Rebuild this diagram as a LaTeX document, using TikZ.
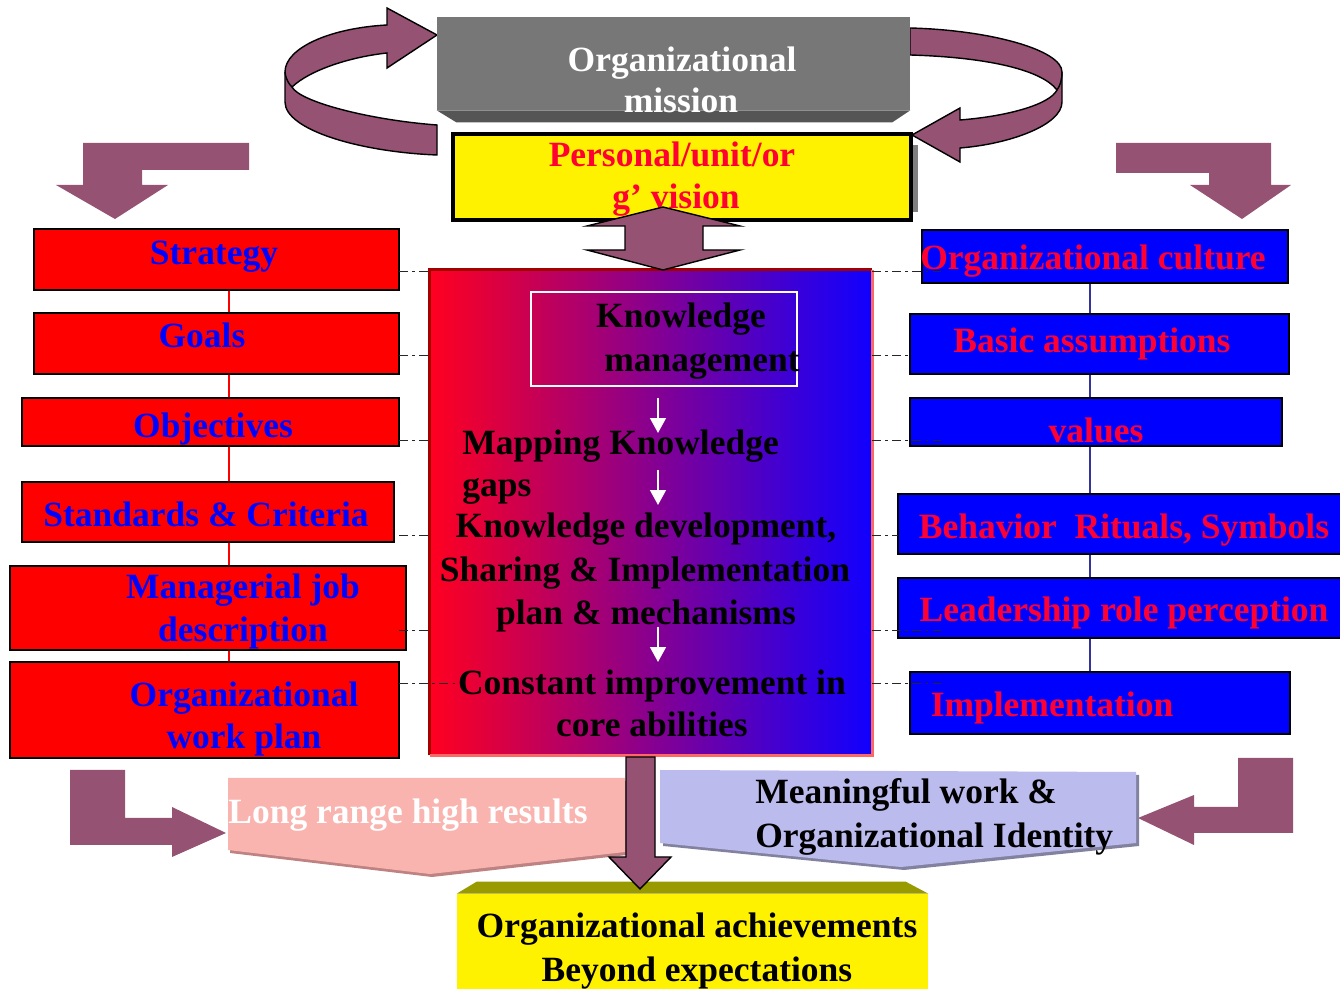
\documentclass[tikz,border=0pt]{standalone}
\usepackage{fontspec}
\setmainfont{Liberation Serif}
\usepackage{tikz}
\usetikzlibrary{arrows.meta}

\definecolor{plum}{RGB}{149,82,115}
\definecolor{misgray}{RGB}{119,119,119}
\definecolor{misdark}{RGB}{85,85,85}
\definecolor{vred}{RGB}{255,0,51}
\definecolor{kmred}{RGB}{255,0,32}
\definecolor{kmmid}{RGB}{175,0,170}
\definecolor{kmblue}{RGB}{16,0,255}
\definecolor{kmdark}{RGB}{160,0,0}
\definecolor{kmlight}{RGB}{255,102,102}
\definecolor{pinkbox}{RGB}{249,180,176}
\definecolor{pinkshade}{RGB}{190,130,130}
\definecolor{lavbox}{RGB}{187,187,238}
\definecolor{lavshade}{RGB}{130,130,160}
\definecolor{achbevel}{RGB}{153,153,0}
\definecolor{culline}{RGB}{51,51,153}

\tikzset{
  txt/.style={inner sep=0pt, anchor=base, font=\bfseries\fontsize{20.2}{24}\selectfont},
  lbox/.style={draw=black, fill=red, line width=1.2pt, inner sep=0pt},
  rbox/.style={draw=black, fill=blue, line width=1.2pt, inner sep=0pt},
  dd/.style={black!85, line width=0.5pt, dash pattern=on 5pt off 2.5pt on 1.5pt off 2.5pt},
  bigarrow/.style={fill=plum, draw=black, line width=0.8pt, line join=miter},
  warrow/.style={white, line width=1.1pt, -{Triangle[width=9pt,length=8.5pt]}},
}

\begin{document}
\begin{tikzpicture}[x=0.02cm,y=-0.02cm]
\useasboundingbox (0,0) rectangle (1340,989);
\clip (0,0) rectangle (1340,989);

% bent arrows
\fill[plum] (249,143) -- (83,143) -- (83,185) -- (56,185) -- (115,219) -- (168,185) -- (142,185) -- (142,170) -- (249,170) -- cycle;
\fill[plum] (1116,143) -- (1271,143) -- (1271,185) -- (1291,185) -- (1242,219) -- (1190,185) -- (1209,185) -- (1209,173) -- (1116,173) -- cycle;
\fill[plum] (70,770) -- (125,770) -- (125,818) -- (172,818) -- (172,807) -- (226,833) -- (172,857) -- (172,845) -- (70,845) -- cycle;
\fill[plum] (1293,758) -- (1238,758) -- (1238,807) -- (1194,807) -- (1194,795) -- (1138,818) -- (1194,845) -- (1194,833) -- (1293,833) -- cycle;

% top loops
\draw[bigarrow] (437,125) .. controls (370,120) and (300,102) .. (292,87)
  .. controls (310,70) and (350,57) .. (387,53) -- (387,68) -- (437,35) -- (387,8) -- (387,25)
  .. controls (330,28) and (285,48) .. (285,72) -- (285,102)
  .. controls (285,130) and (360,152) .. (437,155) -- cycle;
\draw[line width=0.8pt] (285,72) .. controls (286,80) and (289,84) .. (292,87);
\draw[bigarrow] (910,28) .. controls (990,30) and (1062,50) .. (1062,72) -- (1062,102)
  .. controls (1062,125) and (1010,144) .. (960,148) -- (960,162) -- (912,135) -- (960,108) -- (960,120)
  .. controls (1010,116) and (1050,104) .. (1057,90)
  .. controls (1040,68) and (980,57) .. (910,55) -- cycle;
\draw[line width=0.8pt] (1062,72) .. controls (1062,80) and (1060,86) .. (1057,90);

% mission and vision
\node[fill=misgray, minimum width=9.46cm, minimum height=1.86cm, inner sep=0pt] (mission) at (673.5,63.5) {};
\fill[misdark] (mission.south west) -- (mission.south east) -- ++(-18,12) -- ++(-436,0) -- cycle;
\fill[gray] (913,145) rectangle (918,212);
\node[draw=black, fill=yellow, line width=2.6pt, minimum width=9.16cm, minimum height=1.72cm, inner sep=0pt] (vision) at (682,177) {};

% knowledge management box
\node[left color=kmred, middle color=kmmid, right color=kmblue, minimum width=8.84cm, minimum height=9.7cm, inner sep=0pt] (km) at (651,512.5) {};
\draw[kmdark, line width=1.8pt] (km.south west) -- (km.north west) -- (km.north east);
\draw[kmlight, line width=1.8pt] (km.north east) -- (km.south east) -- (km.south west);
\node[draw=white, line width=0.8pt, minimum width=5.32cm, minimum height=1.88cm, inner sep=0pt] (kmbox) at (664,339) {};

% left column
\coordinate (redx) at (229,0);
\node[lbox, minimum width=7.30cm, minimum height=1.22cm] (strat) at (216.5,259.5) {};
\node[lbox, minimum width=7.30cm, minimum height=1.22cm] (goals) at (216.5,343.5) {};
\node[lbox, minimum width=7.54cm, minimum height=0.96cm] (obj) at (210.5,422) {};
\node[lbox, minimum width=7.44cm, minimum height=1.20cm] (stand) at (208,512) {};
\node[lbox, minimum width=7.92cm, minimum height=1.68cm] (mjob) at (208,608) {};
\node[lbox, minimum width=7.78cm, minimum height=1.92cm] (wplan) at (204.5,710) {};
\draw[red, line width=0.6pt] (strat.south -| redx) -- (goals.north -| redx);
\draw[red, line width=0.6pt] (goals.south -| redx) -- (obj.north -| redx);
\draw[red, line width=0.6pt] (obj.south -| redx) -- (stand.north -| redx);
\draw[red, line width=0.6pt] (stand.south -| redx) -- (mjob.north -| redx);
\draw[red, line width=0.6pt] (mjob.south -| redx) -- (wplan.north -| redx);

% right column
\coordinate (bluex) at (1090,0);
\node[rbox, minimum width=7.32cm, minimum height=1.06cm] (cult) at (1105,256.5) {};
\node[rbox, minimum width=7.58cm, minimum height=1.20cm] (assum) at (1099.5,344) {};
\node[rbox, minimum width=7.44cm, minimum height=0.96cm] (vals) at (1096,422) {};
\node[rbox, minimum width=8.94cm, minimum height=1.20cm] (behav) at (1121.5,524) {};
\node[rbox, minimum width=8.94cm, minimum height=1.20cm] (lead) at (1121.5,608) {};
\node[rbox, minimum width=7.60cm, minimum height=1.24cm] (impl) at (1100,703) {};
\draw[culline, line width=0.9pt] (cult.south -| bluex) -- (assum.north -| bluex);
\draw[culline, line width=0.9pt] (assum.south -| bluex) -- (vals.north -| bluex);
\draw[culline, line width=0.9pt] (vals.south -| bluex) -- (behav.north -| bluex);
\draw[culline, line width=0.9pt] (behav.south -| bluex) -- (lead.north -| bluex);
\draw[culline, line width=0.9pt] (lead.south -| bluex) -- (impl.north -| bluex);

% pomozne tocke za crte
\coordinate (sl1) at (399,271);
\coordinate (sl2) at (399,355);
\coordinate (sl3) at (399,440);
\coordinate (sl4) at (399,535);
\coordinate (sl5) at (399,630);
\coordinate (sl6) at (399,683);
\coordinate (kl1) at (430,271);
\coordinate (kl2) at (430,355);
\coordinate (kl3) at (430,440);
\coordinate (kl4) at (430,535);
\coordinate (kl5) at (430,630);
\coordinate (kl6) at (457,683);
\coordinate (kr1) at (872,271);
\coordinate (kr2) at (872,355);
\coordinate (kr3) at (872,440);
\coordinate (kr4) at (872,535);
\coordinate (kr5) at (872,630);
\coordinate (kr6) at (872,683);
\coordinate (cr1) at (942,271);
\coordinate (cr2) at (910,355);
\coordinate (cr3) at (942,440);
\coordinate (cr4) at (898,535);
\coordinate (cr5) at (942,630);
\coordinate (cr6) at (942,683);
\foreach \i in {1,...,6}
  \draw[dd] (sl\i) -- (kl\i);
\foreach \i in {1,...,6}
  \draw[dd] (kr\i) -- (cr\i);

% white arrows
\coordinate (a1) at (658,398);
\coordinate (b1) at (658,433);
\coordinate (a2) at (658,470);
\coordinate (b2) at (658,505);
\coordinate (a3) at (658,627);
\coordinate (b3) at (658,662);
\foreach \i in {1,2,3}
  \draw[warrow] (a\i) -- (b\i);

% bottom shapes
\fill[pinkshade] (230,781) -- (627,781) -- (627,855) -- (432,877) -- (230,853) -- cycle;
\fill[pinkbox] (228,778) -- (625,778) -- (625,852) -- (430,874) -- (228,850) -- cycle;
\fill[lavshade] (663,773) -- (1139,775) -- (1139,846) -- (904,870) -- (663,846) -- cycle;
\fill[lavbox] (660,770) -- (1136,772) -- (1136,843) -- (901,867) -- (660,843) -- cycle;
\node[fill=yellow, minimum width=9.42cm, minimum height=1.9cm, inner sep=0pt] (ach) at (692.5,941.5) {};
\fill[achbevel] (ach.north west) -- ++(20,-12) -- ++(429,0) -- (ach.north east) -- cycle;
\draw[bigarrow] (626,757) -- (655,757) -- (655,857) -- (671,857) -- (640,889) -- (609,857) -- (626,857) -- cycle;

% texts
\node[txt, white] (mis1) at (682,72) {Organizational};
\node[txt, white] (mis2) at (681,113) {mission};
\node[txt, vred] (vis1) at (672,167) {Personal/unit/or};
\node[txt, vred] (vis2) at (676,209) {g’ vision};
\draw[bigarrow] (663,207) -- (740,226) -- (703,226) -- (703,250) -- (740,250) -- (663,270) -- (587,250) -- (625,250) -- (625,226) -- (587,226) -- cycle;

\node[txt, blue] (strat-t) at (214,265) {Strategy};
\node[txt, blue] (goals-t) at (202,348) {Goals};
\node[txt, blue] (obj-t) at (213,438) {Objectives};
\node[txt, blue] (stand-t) at (206,527) {Standards \& Criteria};
\node[txt, blue] (mjob1) at (243,599) {Managerial job};
\node[txt, blue] (mjob2) at (243,642) {description};
\node[txt, blue] (wplan1) at (244,707) {Organizational};
\node[txt, blue] (wplan2) at (244,749) {work plan};

\node[txt] (km1) at (681,328) {Knowledge};
\node[txt] (km2) at (702,372) {management};
\node[txt, anchor=base west] (map1) at (462,455) {Mapping Knowledge};
\node[txt, anchor=base west] (map2) at (462,497) {gaps};
\node[txt] (dev1) at (646,538) {Knowledge development,};
\node[txt] (dev2) at (645,582) {Sharing \& Implementation};
\node[txt] (dev3) at (646,625) {plan \& mechanisms};
\node[txt] (imp1) at (652,695) {Constant improvement in};
\node[txt] (imp2) at (652,737) {core abilities};

\node[txt, vred] (cult-t) at (1093,270) {Organizational culture};
\node[txt, vred] (assum-t) at (1092,353) {Basic assumptions};
\node[txt, vred] (vals-t) at (1096,443) {values};
\node[txt, vred] (behav-t) at (1124,539) {Behavior\ \ Rituals, Symbols};
\node[txt, vred] (lead-t) at (1124,622) {Leadership role perception};
\node[txt, vred] (impl-t) at (1052,717) {Implementation};

\node[txt, white] (long-t) at (408,824) {Long range high results};
\node[txt, anchor=base west] (mean1) at (755,804) {Meaningful work \&};
\node[txt, anchor=base west] (mean2) at (755,847) {Organizational Identity};
\node[txt] (ach1) at (697,938) {Organizational achievements};
\node[txt] (ach2) at (697,981) {Beyond expectations};
\end{tikzpicture}
\end{document}
